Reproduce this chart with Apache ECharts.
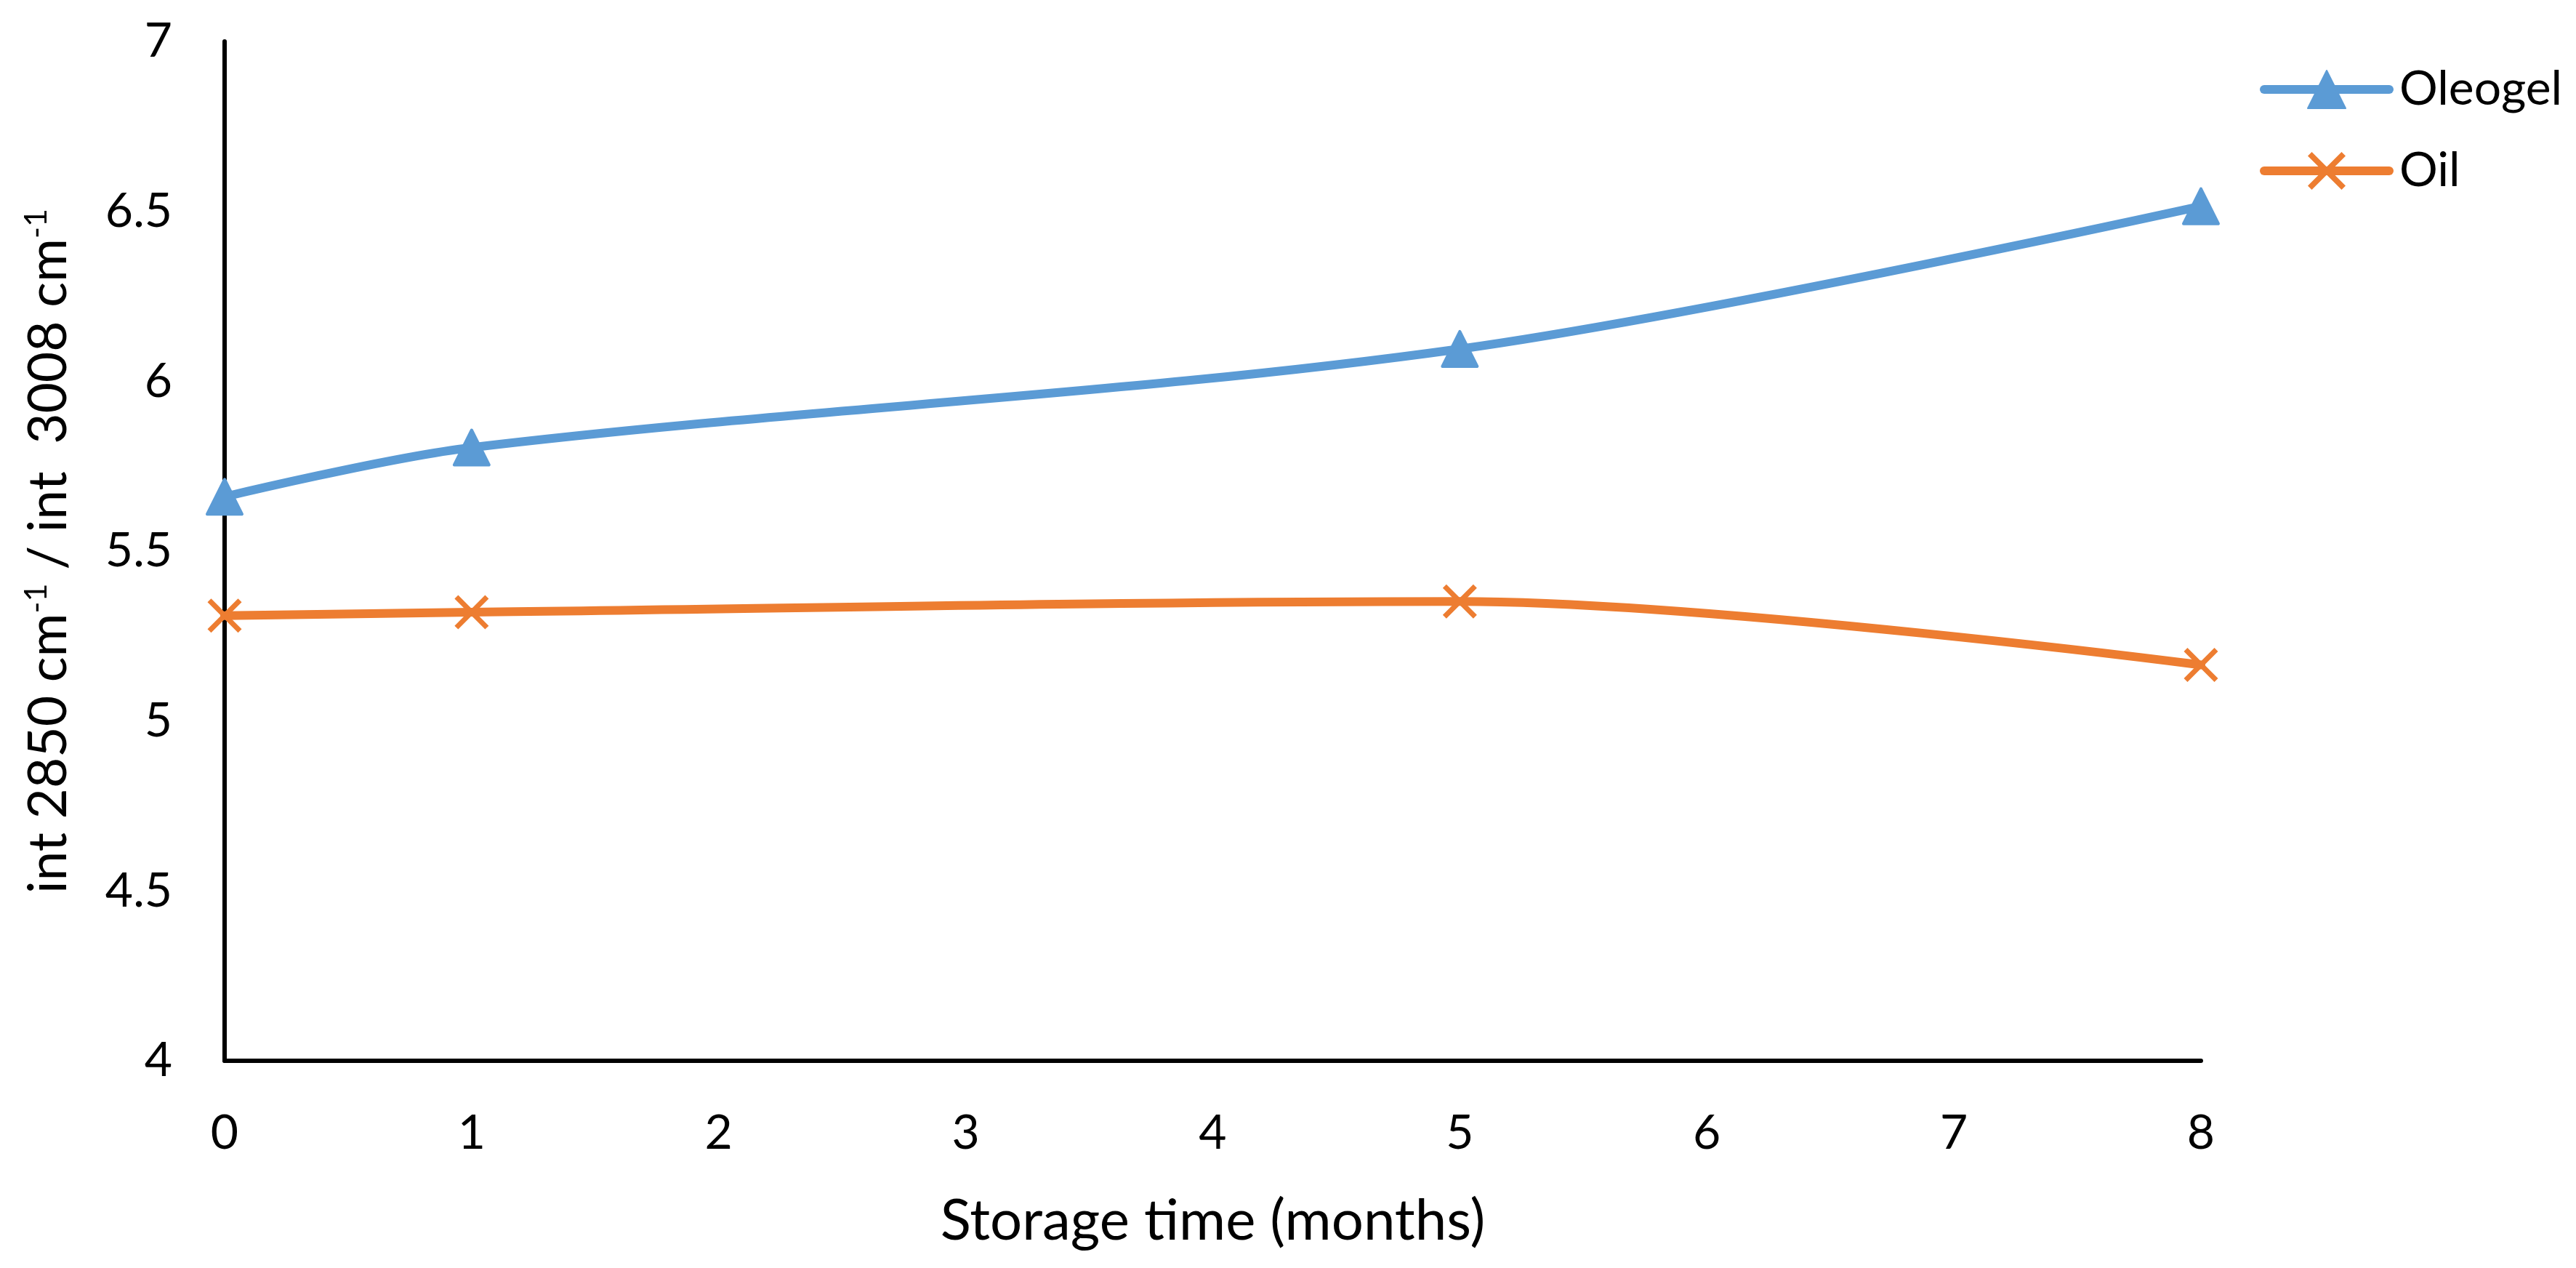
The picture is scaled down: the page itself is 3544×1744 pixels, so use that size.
<!DOCTYPE html>
<html>
<head>
<meta charset="utf-8">
<script src="https://cdn.jsdelivr.net/npm/echarts@6/dist/echarts.min.js"></script>
<style>
html,body{margin:0;padding:0;background:#fff;}
#chart{width:3544px;height:1744px;}
</style>
</head>
<body>
<div id="chart"></div>
<script>
// ---- data ----
const months = [0, 1, 5, 8];
const oleogel = [5.66, 5.805, 6.095, 6.515];
const oil = [5.31, 5.32, 5.352, 5.165];
const seriesNames = ['Oleogel', 'Oil'];
const xTitle = 'Storage time (months)';
const yTitle = 'int 2850 cm{sup|-1} / int  3008 cm{sup|-1}';

const FONT = 'Lato';
const xMarker = 'path://M0,10.6L10.6,0L100,89.4L89.4,100Z M89.4,0L100,10.6L10.6,100L0,89.4Z';

const chart = echarts.init(document.getElementById('chart'), null, {renderer: 'canvas'});
chart.setOption({
  animation: false,
  backgroundColor: '#ffffff',
  grid: {left: 309, right: 516, top: 57, bottom: 285, containLabel: false, outerBoundsMode: 'none'},
  legend: {
    orient: 'vertical',
    left: 3104,
    top: 85,
    itemWidth: 172,
    itemHeight: 65,
    itemGap: 46,
    lineStyle: {width: 12, cap: 'round'},
    textStyle: {fontFamily: FONT, fontSize: 66, color: '#000', padding: [0, 0, 0, 9]},
    data: seriesNames
  },
  xAxis: {
    type: 'value',
    min: 0, max: 8, interval: 1,
    name: xTitle,
    nameLocation: 'middle',
    nameGap: 182,
    nameTextStyle: {fontFamily: FONT, fontSize: 78, color: '#000'},
    axisLine: {show: true, onZero: false, lineStyle: {color: '#000', width: 6}},
    axisTick: {show: false},
    splitLine: {show: false},
    axisLabel: {fontFamily: FONT, fontSize: 66, color: '#000', margin: 67}
  },
  yAxis: {
    type: 'value',
    min: 4, max: 7, interval: 0.5,
    name: yTitle,
    nameLocation: 'middle',
    nameGap: 198,
    nameTextStyle: {
      fontFamily: FONT, fontSize: 73, color: '#000', lineHeight: 88,
      rich: {sup: {fontFamily: FONT, fontSize: 43, color: '#000', verticalAlign: 'top', padding: [6, 0, 0, 0]}}
    },
    axisLine: {show: true, onZero: false, lineStyle: {color: '#000', width: 6}},
    axisTick: {show: false},
    splitLine: {show: false},
    axisLabel: {fontFamily: FONT, fontSize: 66, color: '#000', margin: 72}
  },
  series: [
    {
      name: seriesNames[0],
      type: 'line',
      data: months.map((m, i) => [m, oleogel[i]]),
      smooth: 0.33,
      symbol: 'triangle',
      symbolSize: 48,
      showAllSymbol: true,
      color: '#5B9BD5',
      lineStyle: {color: '#5B9BD5', width: 12, cap: 'round', join: 'round'},
      itemStyle: {color: '#5B9BD5', borderColor: '#5B9BD5', borderWidth: 4, borderJoin: 'round'}
    },
    {
      name: seriesNames[1],
      type: 'line',
      data: months.map((m, i) => [m, oil[i]]),
      smooth: 0.33,
      symbol: xMarker,
      symbolSize: 47,
      showAllSymbol: true,
      color: '#ED7D31',
      lineStyle: {color: '#ED7D31', width: 12, cap: 'round', join: 'round'},
      itemStyle: {color: '#ED7D31', borderWidth: 0}
    }
  ]
});
</script>
</body>
</html>
